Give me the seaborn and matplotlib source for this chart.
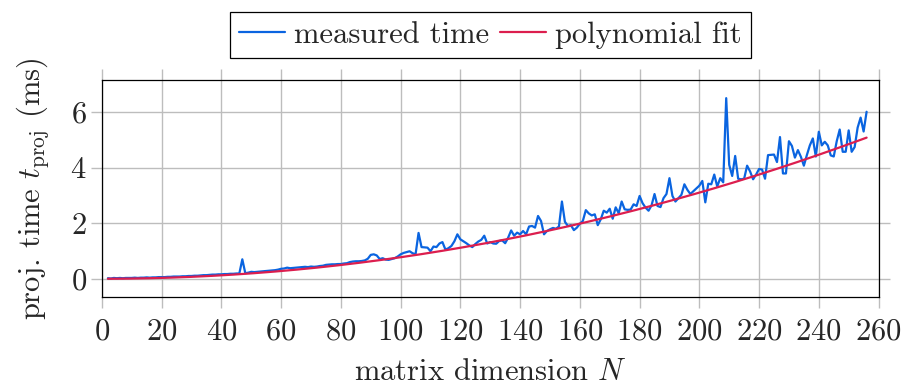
import numpy as np
import pandas as pd
import matplotlib
matplotlib.use("Agg")
import matplotlib.pyplot as plt
import seaborn as sns

# Matrix dimensions and measured projection times (ms)
matrix_dim = list(range(2, 257))
measured_ms = [
    0.02, 0.01, 0.03, 0.02, 0.03, 0.02, 0.03, 0.03,                     # 2-9
    0.03, 0.04, 0.03, 0.04, 0.04, 0.05, 0.04, 0.05, 0.05, 0.06,         # 10-19
    0.06, 0.06, 0.07, 0.07, 0.08, 0.08, 0.08, 0.09, 0.09, 0.10,         # 20-29
    0.10, 0.11, 0.11, 0.12, 0.13, 0.13, 0.14, 0.15, 0.15, 0.16,         # 30-39
    0.16, 0.17, 0.17, 0.18, 0.18, 0.19, 0.19, 0.70, 0.20, 0.22,         # 40-49
    0.25, 0.24, 0.25, 0.26, 0.27, 0.28, 0.29, 0.30, 0.31, 0.33,         # 50-59
    0.36, 0.37, 0.40, 0.38, 0.39, 0.40, 0.41, 0.42, 0.43, 0.42,         # 60-69
    0.44, 0.43, 0.44, 0.46, 0.47, 0.50, 0.51, 0.52, 0.52, 0.53,         # 70-79
    0.53, 0.55, 0.56, 0.60, 0.62, 0.63, 0.63, 0.64, 0.66, 0.72,         # 80-89
    0.86, 0.88, 0.84, 0.71, 0.74, 0.69, 0.68, 0.71, 0.74, 0.80,         # 90-99
    0.88, 0.93, 0.96, 0.99, 0.92, 0.88, 1.65, 1.14, 1.13, 1.12,         # 100-109
    0.99, 1.16, 1.14, 1.27, 1.32, 1.05, 1.10, 1.18, 1.35, 1.60,         # 110-119
    1.42, 1.35, 1.28, 1.20, 1.14, 1.25, 1.34, 1.40, 1.55, 1.27,         # 120-129
    1.32, 1.27, 1.26, 1.36, 1.38, 1.28, 1.48, 1.74, 1.55, 1.66,         # 130-139
    1.60, 1.72, 1.60, 1.88, 1.90, 1.84, 2.26, 2.08, 1.60, 1.72,         # 140-149
    1.78, 1.83, 1.80, 1.88, 2.78, 2.05, 1.90, 1.93, 1.75, 1.84,         # 150-159
    1.98, 2.08, 2.47, 2.35, 2.28, 2.32, 1.93, 2.14, 2.45, 2.38,         # 160-169
    2.52, 2.16, 2.57, 2.36, 2.78, 2.50, 2.48, 2.49, 2.68, 2.62,         # 170-179
    2.98, 2.72, 2.56, 2.45, 2.64, 3.05, 2.62, 2.58, 2.90, 3.05,         # 180-189
    3.62, 2.98, 2.78, 2.90, 3.02, 3.40, 3.20, 3.05, 3.15, 3.25,         # 190-199
    3.35, 3.52, 2.75, 3.42, 3.40, 3.75, 3.32, 3.62, 3.47, 6.50,         # 200-209
    4.10, 3.70, 4.42, 3.60, 3.58, 3.60, 4.07, 3.86, 3.58, 3.75,         # 210-219
    3.95, 3.93, 3.60, 4.45, 4.46, 4.47, 4.20, 5.10, 3.79, 3.79,         # 220-229
    4.95, 4.78, 4.36, 4.63, 4.39, 4.07, 4.45, 4.80, 5.05, 4.40,         # 230-239
    5.29, 4.80, 4.93, 4.80, 4.44, 4.40, 4.95, 5.37, 4.57, 4.57,         # 240-249
    5.34, 4.57, 4.74, 5.44, 5.80, 5.30, 6.01,                           # 250-256
]

# Quadratic fit coefficients (highest power first): t = c2*N^2 + c1*N + c0
fit_coeffs = [7.75e-5, 0.0, 0.0]

x_ticks = list(range(0, 261, 20))
y_ticks = [0, 2, 4, 6]

N = np.array(matrix_dim)
df = pd.DataFrame({
    "N": np.concatenate([N, N]),
    "t": np.concatenate([measured_ms, np.polyval(fit_coeffs, N)]),
    "series": ["measured time"] * len(N) + ["polynomial fit"] * len(N),
})

sns.set_style("white")
plt.rcParams.update({
    "font.family": "serif",
    "font.serif": ["cmr10", "DejaVu Serif"],
    "mathtext.fontset": "cm",
    "axes.formatter.use_mathtext": True,
    "font.size": 22,
})

fig = plt.figure(figsize=(9.02, 3.85), dpi=100)
ax = fig.add_axes([0.113, 0.229, 0.861, 0.563])

palette = {"measured time": "#0a64e0", "polynomial fit": "#dc1e4e"}
sns.lineplot(data=df, x="N", y="t", hue="series", palette=palette,
             linewidth=1.6, ax=ax, legend=True)

ax.set_xlim(0, 260)
ax.set_ylim(-0.65, 7.15)
ax.set_xticks(x_ticks)
ax.set_yticks(y_ticks)
ax.grid(True, color="#bdbdbd", linewidth=1.0)
ax.set_axisbelow(True)
for side in ax.spines.values():
    side.set_color("black")
    side.set_linewidth(0.9)
    side.set_visible(True)
ax.tick_params(axis="both", which="major", direction="out", length=8,
               width=1.0, color="#bdbdbd", labelsize=22, pad=3,
               top=True, right=True, bottom=True, left=True)
ax.tick_params(axis="x", pad=7)

ax.set_xlabel("matrix dimension $N$", fontsize=22, labelpad=10)
ax.set_ylabel(r"proj. time $t_{\mathrm{proj}}$ (ms)", fontsize=22, labelpad=14)

handles, labels = ax.get_legend_handles_labels()
ax.legend(handles, labels, loc="center", bbox_to_anchor=(0.5435, 0.909),
          bbox_transform=fig.transFigure, ncol=2, frameon=True,
          fancybox=False, edgecolor="black", framealpha=1,
          handlelength=1.5, handletextpad=0.3, columnspacing=0.35,
          borderpad=0.3, borderaxespad=0, fontsize=22)
ax.get_legend().get_frame().set_linewidth(0.9)

fig.savefig("out.png", dpi=100)
